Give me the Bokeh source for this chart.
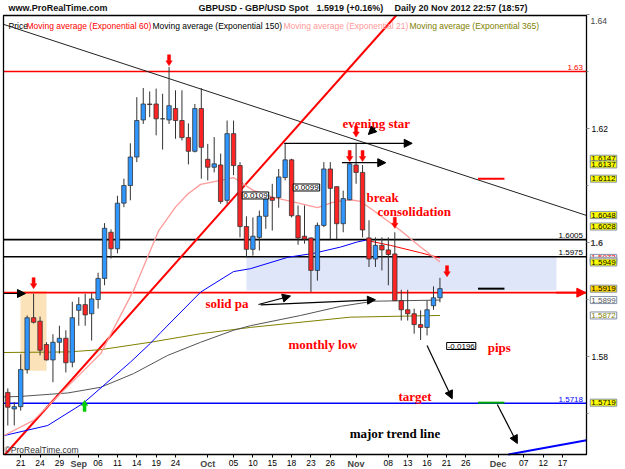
import numpy as np
from bokeh.plotting import figure
from bokeh.models import ColumnDataSource, Range1d, FixedTicker, Label, Arrow, NormalHead, LinearAxis
from bokeh.embed import file_html
from bokeh.resources import INLINE
from bokeh.core.properties import value

# ---------------- data ----------------
first_day = "2012-08-17"   # index 0 of the trading-day axis

opens = [1.5737, 1.5708, 1.5712, 1.5777, 1.5868, 1.5862, 1.5821, 1.5794, 1.5825, 1.5832,
         1.5790, 1.5881, 1.5891, 1.5875, 1.5900, 1.5937, 1.6018, 1.5989, 1.6069, 1.6100,
         1.6150, 1.6215, 1.6243, 1.6243, 1.6217, 1.6215, 1.6235, 1.6214, 1.6184, 1.6160,
         1.6235, 1.6146, 1.6132, 1.6136, 1.6074, 1.6191, 1.6135, 1.6028, 1.5988, 1.6009,
         1.6046, 1.6079, 1.6079, 1.6114, 1.6145, 1.6047, 1.6011, 1.6008, 1.5951, 1.6030,
         1.6129, 1.6098, 1.6033, 1.6075, 1.6136, 1.6123, 1.6008, 1.5971, 1.5995, 1.5987,
         1.5980, 1.5898, 1.5882, 1.5875, 1.5856, 1.5851, 1.5889, 1.5903]
highs = [1.5744, 1.5720, 1.5804, 1.5872, 1.5910, 1.5870, 1.5825, 1.5839, 1.5854, 1.5846,
         1.5896, 1.5904, 1.5910, 1.5911, 1.5947, 1.6034, 1.6023, 1.6082, 1.6112, 1.6174,
         1.6255, 1.6271, 1.6265, 1.6270, 1.6261, 1.6308, 1.6267, 1.6267, 1.6209, 1.6243,
         1.6271, 1.6173, 1.6185, 1.6156, 1.6214, 1.6214, 1.6141, 1.6046, 1.6044, 1.6056,
         1.6084, 1.6103, 1.6129, 1.6174, 1.6147, 1.6065, 1.6065, 1.6009, 1.6035, 1.6141,
         1.6141, 1.6098, 1.6091, 1.6141, 1.6173, 1.6136, 1.6039, 1.6009, 1.6009, 1.6009,
         1.6018, 1.5917, 1.5917, 1.5884, 1.5881, 1.5898, 1.5923, 1.5938]
lows = [1.5679, 1.5679, 1.5705, 1.5770, 1.5858, 1.5802, 1.5793, 1.5755, 1.5805, 1.5772,
        1.5781, 1.5854, 1.5854, 1.5828, 1.5884, 1.5925, 1.5972, 1.5981, 1.6062, 1.6074,
        1.6141, 1.6208, 1.6220, 1.6188, 1.6163, 1.6208, 1.6182, 1.6179, 1.6137, 1.6158,
        1.6112, 1.6109, 1.6123, 1.6068, 1.6068, 1.6118, 1.6009, 1.5974, 1.5977, 1.5986,
        1.6024, 1.6021, 1.6061, 1.6109, 1.6044, 1.5996, 1.5998, 1.5913, 1.5933, 1.6027,
        1.6006, 1.6006, 1.6018, 1.6074, 1.6103, 1.6009, 1.5957, 1.5957, 1.5951, 1.5925,
        1.5898, 1.5863, 1.5863, 1.5840, 1.5829, 1.5837, 1.5882, 1.5895]
closes = [1.5711, 1.5712, 1.5777, 1.5868, 1.5860, 1.5811, 1.5794, 1.5825, 1.5832, 1.5789,
          1.5868, 1.5891, 1.5873, 1.5901, 1.5937, 1.6025, 1.5989, 1.6069, 1.6100, 1.6150,
          1.6214, 1.6243, 1.6242, 1.6217, 1.6217, 1.6240, 1.6214, 1.6184, 1.6160, 1.6235,
          1.6167, 1.6132, 1.6138, 1.6072, 1.6191, 1.6135, 1.6028, 1.5988, 1.6011, 1.6046,
          1.6081, 1.6074, 1.6115, 1.6145, 1.6047, 1.6008, 1.6006, 1.5951, 1.6030, 1.6129,
          1.6095, 1.6033, 1.6077, 1.6138, 1.6123, 1.6022, 1.5971, 1.5995, 1.5987, 1.5979,
          1.5898, 1.5882, 1.5875, 1.5856, 1.5851, 1.5882, 1.5903, 1.5919]

# moving averages read at sample points (trading-day index, price)
ema21_idx = [-0.67, 4.0, 14.4, 19.5, 23.4, 26.0, 27.9, 29.9, 33.0, 35.0, 38.1, 41.2, 45.4, 48.0, 50.5, 53.1, 54.7, 56.7, 60.9, 64.0, 67.0]
ema21_val = [1.5661, 1.5688, 1.5805, 1.5916, 1.6021, 1.6062, 1.6085, 1.6102, 1.6109, 1.6114, 1.6091, 1.6079, 1.6068, 1.6061, 1.6071, 1.6075, 1.6072, 1.6056, 1.6021, 1.5992, 1.5966]
ema60_idx = [-0.67, 6.2, 11.7, 19.0, 22.1, 23.7, 29.9, 35.0, 37.6, 43.4, 47.4, 51.6, 54.2, 55.5, 59.3, 64.0, 67.0]
ema60_val = [1.5661, 1.5679, 1.5718, 1.5790, 1.5823, 1.5842, 1.5913, 1.5949, 1.5954, 1.5974, 1.5981, 1.5992, 1.6001, 1.6004, 1.5995, 1.5982, 1.5973]
ema150_idx = [-0.67, 2.0, 9.3, 14.4, 19.5, 24.8, 29.9, 35.0, 37.6, 45.4, 51.6, 56.7, 67.0]
ema150_val = [1.5729, 1.5730, 1.5736, 1.5746, 1.5770, 1.5802, 1.5825, 1.5846, 1.5854, 1.5872, 1.5888, 1.5897, 1.5899]
ema365_idx = [-0.67, 9.3, 14.4, 22.1, 29.9, 37.6, 53.1, 67.0]
ema365_val = [1.5807, 1.5808, 1.5812, 1.5825, 1.5840, 1.5851, 1.5869, 1.5872]

# horizontal levels
level_values = [1.63, 1.6005, 1.5975, 1.5912, 1.5718]
level_labels = ["1.63", "1.6005", "1.5975", "", "1.5718"]
level_colors = ["#ff0000", "#000000", "#000000", "#ff0000", "#0000ff"]

# trend lines (two read points each)
trend_black = [(16.43, 1.63193), (89.57, 1.6048)]
trend_red = [(4.29, 1.5688), (60.27, 1.6399)]
trend_blue = [(78.2, 1.56293), (89.57, 1.56526)]

# zones
blue_zone = dict(left=37.0, right=85.07, bottom=1.5916, top=1.5975)
orange_zone = dict(left=1.97, right=6.0, bottom=1.5775, top=1.5915)

# arrows pointing down at these (index, price of tip)
down_arrows = [(4, 1.5919), (25, 1.6310), (54, 1.6185), (53, 1.6142), (55, 1.6142), (60, 1.6025), (68.1, 1.5940)]
up_arrows = [(11.9, 1.5723)]

# right-hand short markers
marks_val = [1.6112, 1.5919, 1.5719]
marks_col = ["#ff0000", "#000000", "#00aa00"]
marks_span = (72.9, 77.0)

# right-hand price tags: (text, value, fill, text colour)
tags = [("1.6147", 1.6147, "#ffff00", "#000000"), ("1.6137", 1.6137, "#ffff00", "#000000"),
        ("1.6112", 1.6112, "#ffff00", "#000000"), ("1.6048", 1.6048, "#ffff00", "#000000"),
        ("1.6028", 1.6028, "#ffff00", "#000000"), ("1.5973", 1.5973, "#ffffff", "#ff0000"),
        ("1.5968", 1.5968, "#ffffff", "#ff9999"), ("1.5949", 1.5949, "#ffff00", "#000000"),
        ("1.5919", 1.5919, "#ffd800", "#000000"), ("1.5899", 1.5899, "#ffffff", "#555555"),
        ("1.5872", 1.5872, "#ffffff", "#808000"), ("1.5719", 1.5719, "#ffff00", "#000000")]
tag_nudge = {"1.5949": 0.0016}   # the tag is pushed up under its neighbours

tick_dates = ["2012-08-21", "2012-08-24", "2012-08-29", "2012-09-03", "2012-09-06", "2012-09-11",
              "2012-09-14", "2012-09-19", "2012-09-24", "2012-10-01", "2012-10-05", "2012-10-10",
              "2012-10-15", "2012-10-18", "2012-10-23", "2012-10-26", "2012-11-01", "2012-11-08",
              "2012-11-13", "2012-11-16", "2012-11-21", "2012-11-26", "2012-12-03", "2012-12-07",
              "2012-12-12", "2012-12-17"]
tick_labels = ["21", "24", "29", "Sep", "06", "11", "14", "19", "24", "Oct", "05", "10", "15", "18",
               "23", "26", "Nov", "08", "13", "16", "21", "26", "Dec", "07", "12", "17"]
month_names = ["Sep", "Oct", "Nov", "Dec"]

y_ticks = [1.58, 1.60, 1.62, 1.64]
y_minor = [1.57, 1.59, 1.61, 1.63]

# ---------------- geometry of the canvas ----------------
W, H = 625, 469
DX = 6.45            # pixels per trading day
X_AT0 = 7.3          # pixel of index 0
PY = 5700.0          # pixels per unit of price
Y_REF, P_REF = 242.0, 1.60

def ix(px):          # pixel column -> index
    return (px - X_AT0) / DX

def pr(py):          # pixel row -> price
    return P_REF + (Y_REF - py) / PY

X0, X1 = ix(0), ix(W)
Y0, Y1 = pr(H), pr(0)
XL, XR = ix(3), ix(586)          # chart box
YB, YT = pr(454), pr(15)
IX = 1 / DX
PX = 1 / PY

p = figure(width=W, height=H, x_range=Range1d(X0, X1), y_range=Range1d(Y0, Y1),
           output_backend="svg", toolbar_location=None, x_axis_location=None, y_axis_location=None,
           min_border_left=0, min_border_right=0, min_border_top=0, min_border_bottom=0)
p.background_fill_color = "white"
p.border_fill_color = "white"
p.outline_line_color = None
p.xgrid.visible = False
p.ygrid.visible = False

tick_idx = [int(np.busday_count(first_day, d)) for d in tick_dates]
xa = LinearAxis(fixed_location=YB)
xa.ticker = FixedTicker(ticks=tick_idx)
xa.major_label_overrides = {t: ("" if l in month_names else l) for t, l in zip(tick_idx, tick_labels)}
xa.major_tick_out = 3
xa.major_tick_in = 0
xa.minor_tick_out = 0
xa.major_label_standoff = 2
xa.major_label_text_font = "Liberation Sans"
xa.major_label_text_font_size = "8.5px"
xa.major_label_text_color = "black"
xa.axis_line_color = None
xa.major_tick_line_color = "black"
p.add_layout(xa, "below")

ya = LinearAxis(fixed_location=XR)
ya.ticker = FixedTicker(ticks=y_ticks, minor_ticks=y_minor)
ya.major_label_overrides = {1.58: "1.58", 1.6: "", 1.62: "1.62", 1.64: ""}
ya.major_tick_out = 3
ya.major_tick_in = 0
ya.minor_tick_out = 2
ya.minor_tick_in = 0
ya.major_label_standoff = 2
ya.major_label_text_font = "Liberation Sans"
ya.major_label_text_font_size = "8.5px"
ya.major_label_text_color = "black"
ya.axis_line_color = None
ya.major_tick_line_color = "#888888"
ya.minor_tick_line_color = "#888888"
p.add_layout(ya, "right")

# zones
p.quad(left=[blue_zone["left"]], right=[blue_zone["right"]], bottom=[blue_zone["bottom"]], top=[blue_zone["top"]],
       fill_color="#dfe6fa", line_color=None)
p.quad(left=[orange_zone["left"]], right=[orange_zone["right"]], bottom=[orange_zone["bottom"]], top=[orange_zone["top"]],
       fill_color="#fbe2b8", line_color=None)

# horizontal levels
for v, col in zip(level_values, level_colors):
    p.line([XL, XR], [v, v], color=col, line_width=1.6)
for v, t, col in zip(level_values, level_labels, level_colors):
    if t:
        p.add_layout(Label(x=XR - 3.5 * IX, y=v + 1.5 * PX, text=t, text_align="right", text_baseline="bottom",
                           text_font="Liberation Sans", text_font_size="8px", text_color=col))

# trend lines, extended and clipped to the chart box
def clipped(pts, xmin, xmax, ymin, ymax):
    (xa0, ya0), (xa1, ya1) = pts
    dx, dy = xa1 - xa0, ya1 - ya0
    tx = sorted([(xmin - xa0) / dx, (xmax - xa0) / dx])
    ty = sorted([(ymin - ya0) / dy, (ymax - ya0) / dy])
    lo, hi = max(tx[0], ty[0]), min(tx[1], ty[1])
    return [xa0 + lo * dx, xa0 + hi * dx], [ya0 + lo * dy, ya0 + hi * dy]

tx, ty = clipped(trend_black, XL, XR, YB, YT)
p.line(tx, ty, color="#222222", line_width=1)
tx, ty = clipped(trend_red, XL, XR, YB, YT)
p.line(tx, ty, color="#ff0000", line_width=2)
tx, ty = clipped(trend_blue, XL, XR, YB, YT)
p.line(tx, ty, color="#0000ff", line_width=2)

# moving averages
p.line(ema365_idx, ema365_val, color="#808000", line_width=1)
p.line(ema150_idx, ema150_val, color="#555555", line_width=1)
k = int(np.argmax(ema60_val))
p.line(ema60_idx[:k + 1], ema60_val[:k + 1], color="#0000ff", line_width=1)
p.line(ema60_idx[k:], ema60_val[k:], color="#ff0000", line_width=1)
p.line(ema21_idx, ema21_val, color="#ff9a9a", line_width=1.3)

# candles
o = np.array(opens); h = np.array(highs); l = np.array(lows); c = np.array(closes)
src = ColumnDataSource(dict(x=np.arange(len(o)), h=h, l=l, top=np.maximum(o, c), bottom=np.minimum(o, c),
                            color=np.where(c >= o, "#2f96ff", "#ff2424")))
p.segment(x0="x", y0="h", x1="x", y1="l", color="#333333", line_width=1, source=src)
p.vbar(x="x", width=0.68, top="top", bottom="bottom", fill_color="color", line_color="#333333", line_width=0.8, source=src)

# short right-hand markers
for v, col in zip(marks_val, marks_col):
    p.line([marks_span[0], marks_span[1]], [v, v], color=col, line_width=2)

# red down arrows / green up arrow
def arrow_shapes(pts, s):
    xs, ys = [], []
    for (xi, tip) in pts:
        head = tip + s * 5 * PX
        xs.append([xi - 3.2 * IX, xi + 3.2 * IX, xi]); ys.append([head, head, tip])
        xs.append([xi - 1.5 * IX, xi + 1.5 * IX, xi + 1.5 * IX, xi - 1.5 * IX])
        ys.append([head, head, head + s * 6 * PX, head + s * 6 * PX])
    return xs, ys

xs, ys = arrow_shapes(down_arrows, 1)
p.patches(xs, ys, fill_color="#ff0000", line_color="#ff0000", line_width=0.5)
xs, ys = arrow_shapes(up_arrows, -1)
p.patches(xs, ys, fill_color="#00cc00", line_color="#00cc00", line_width=0.5)

# black arrows
black_arrows = [((XL, 1.59105), (2.74, 1.59105)),
                ((42.85, 1.6174), (62.7, 1.6174)),
                ((51.8, 1.6140), (58.6, 1.6140)),
                ((57.0, 1.62018), (55.9, 1.61895)),
                ((38.87, 1.58912), (43.83, 1.59061)),
                ((39.2, 1.58904), (57.0, 1.58995)),
                ((65.0, 1.58193), (68.9, 1.57258)),
                ((75.9, 1.57158), (79.0, 1.56474))]
for (a, b) in black_arrows:
    p.add_layout(Arrow(x_start=a[0], y_start=a[1], x_end=b[0], y_end=b[1], line_color="black", line_width=1.2,
                       end=NormalHead(size=8, fill_color="black", line_color="black")))
p.add_layout(Arrow(x_start=85.0, y_start=1.5912, x_end=XR - 0.1, y_end=1.5912, line_color="#ff0000", line_width=1.6,
                   end=NormalHead(size=9, fill_color="#ff0000", line_color="#ff0000")))

# chart box border
p.quad(left=[XL], right=[XR], bottom=[YB], top=[YT], fill_color=None, line_color="black", line_width=1.3)

# red notes
notes = [("evening star", 51.9, 1.62088), ("break", 55.6, 1.60798), ("consolidation", 57.3, 1.60544),
         ("solid pa", 30.65, 1.58930), ("monthly low", 43.52, 1.58211), ("pips", 74.4, 1.58158),
         ("target", 60.57, 1.57298)]
p.text(x=[n[1] for n in notes], y=[n[2] for n in notes], text=[n[0] for n in notes],
       text_font=value("Liberation Serif"), text_font_style="bold", text_font_size="13px",
       text_color="#ff0000", text_baseline="middle", text_align="left")
p.text(x=[53.0], y=[1.56649], text=["major trend line"], text_font=value("Liberation Serif"),
       text_font_style="bold", text_font_size="13px", text_color="black", text_baseline="middle")
p.text(x=[-0.5], y=[pr(449)], text=["\u00a9ProRealTime.com"], text_font=value("Liberation Sans"),
       text_font_size="8.5px", text_color="#333333", text_baseline="middle")

# boxed measurements
for t, xi, yv in [("0.0109", 38.4, 1.60825), ("0.0099", 46.3, 1.60965), ("-0.0196", 70.3, 1.58184)]:
    p.add_layout(Label(x=xi, y=yv, text=t, text_align="center", text_baseline="middle", text_font="Liberation Sans",
                       text_font_size="8px", text_color="black", background_fill_color="white",
                       background_fill_alpha=1.0, border_line_color="black", border_line_width=1, padding=1))

# legend row
legend_parts = [("Price", ix(8), "#000000"), ("Moving average (Exponential 60)", ix(26), "#ff0000"),
                ("Moving average (Exponential 150)", ix(152), "#000000"),
                ("Moving average (Exponential 21)", ix(283), "#ff9999"),
                ("Moving average (Exponential 365)", ix(409), "#808000")]
for t, xi, col in legend_parts:
    p.add_layout(Label(x=xi, y=pr(25), text=t, text_baseline="middle", text_font="Liberation Sans",
                       text_font_size="8.5px", text_color=col))

# header
header = [("www.ProRealTime.com", ix(8)), ("GBPUSD - GBP/USD Spot", ix(198)), ("1.5919 (+0.16%)", ix(316)),
          ("Daily  20 Nov 2012 22:57 (18:57)", ix(394))]
for t, xi in header:
    p.add_layout(Label(x=xi, y=pr(7.5), text=t, text_baseline="middle", text_font="Liberation Sans",
                       text_font_size="9px", text_font_style="bold", text_color="#111111"))

# bold month labels under the axis, bold 1.6 and top 1.64 on the right axis
for t, lab in zip(tick_idx, tick_labels):
    if lab in month_names:
        p.add_layout(Label(x=t, y=pr(463.5), text=lab, text_align="center", text_baseline="middle",
                           text_font="Liberation Sans", text_font_size="9px", text_font_style="bold"))
p.add_layout(Label(x=ix(590), y=1.6, text="1.6", text_baseline="middle", text_font="Liberation Sans",
                   text_font_size="9px", text_font_style="bold"))
p.add_layout(Label(x=ix(590), y=pr(20), text="1.64", text_baseline="middle", text_font="Liberation Sans",
                   text_font_size="8.5px"))

# right-hand price tags
for t, yv, fill, tc in tags:
    p.add_layout(Label(x=ix(603), y=yv + tag_nudge.get(t, 0.0), text=t, text_align="center", text_baseline="middle",
                       text_font="Liberation Sans", text_font_size="8px", text_color=tc,
                       background_fill_color=fill, border_line_color="#8090a8", border_line_width=1, padding=1))

open("out.html", "w").write(file_html(p, INLINE))
